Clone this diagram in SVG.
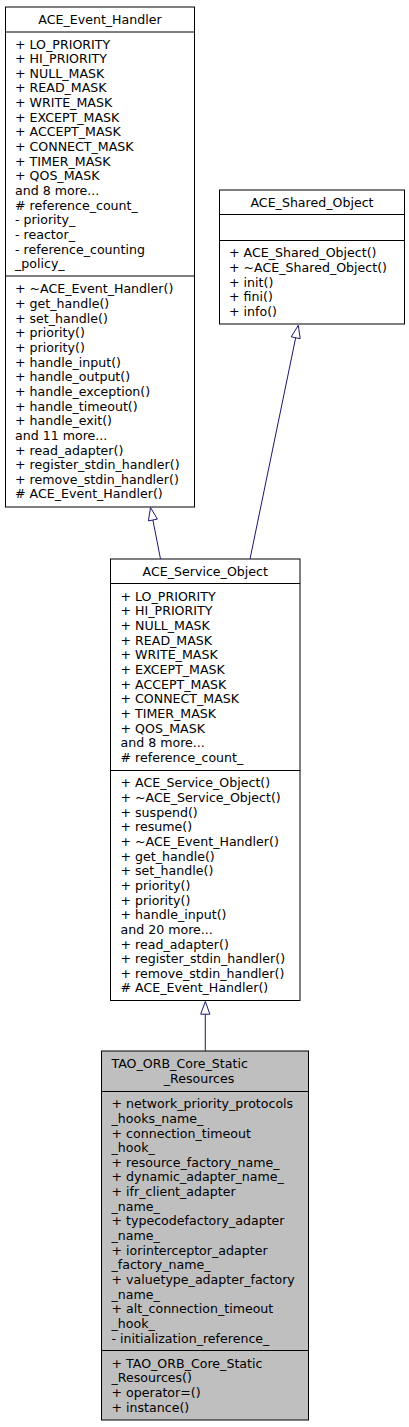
<svg xmlns="http://www.w3.org/2000/svg" width="409" height="1427" viewBox="0 0 409 1427">
<style>
text{font-family:"DejaVu Sans","Liberation Sans",sans-serif;font-size:12.6px;fill:#000}
.box{fill:#fff;stroke:#000;stroke-width:1}
.grey{fill:#bfbfbf;stroke:#000;stroke-width:1}
.sep{stroke:#000;stroke-width:1}
.c{text-anchor:middle}
.edge{stroke:#191970;stroke-width:1;fill:none}
.head{stroke:#191970;stroke-width:1;fill:#fff}
</style>
<rect width="409" height="1427" fill="#fff"/>
<g id="ACE_Event_Handler">
<rect class="box" x="5.5" y="7" width="189" height="500"/>
<line class="sep" x1="5.5" y1="32" x2="194.5" y2="32"/>
<line class="sep" x1="5.5" y1="276" x2="194.5" y2="276"/>
<text class="c" x="100" y="23.9">ACE_Event_Handler</text>
<text x="15" y="33.85"><tspan x="15" dy="14.65">+ LO_PRIORITY</tspan><tspan x="15" dy="14.65">+ HI_PRIORITY</tspan><tspan x="15" dy="14.65">+ NULL_MASK</tspan><tspan x="15" dy="14.65">+ READ_MASK</tspan><tspan x="15" dy="14.65">+ WRITE_MASK</tspan><tspan x="15" dy="14.65">+ EXCEPT_MASK</tspan><tspan x="15" dy="14.65">+ ACCEPT_MASK</tspan><tspan x="15" dy="14.65">+ CONNECT_MASK</tspan><tspan x="15" dy="14.65">+ TIMER_MASK</tspan><tspan x="15" dy="14.65">+ QOS_MASK</tspan><tspan x="15" dy="14.65">and 8 more...</tspan><tspan x="15" dy="14.65"># reference_count_</tspan><tspan x="15" dy="14.65">- priority_</tspan><tspan x="15" dy="14.65">- reactor_</tspan><tspan x="15" dy="14.65">- reference_counting</tspan><tspan x="15" dy="14.65">_policy_</tspan></text>
<text x="15" y="278.7"><tspan x="15" dy="14.65">+ ~ACE_Event_Handler()</tspan><tspan x="15" dy="14.65">+ get_handle()</tspan><tspan x="15" dy="14.65">+ set_handle()</tspan><tspan x="15" dy="14.65">+ priority()</tspan><tspan x="15" dy="14.65">+ priority()</tspan><tspan x="15" dy="14.65">+ handle_input()</tspan><tspan x="15" dy="14.65">+ handle_output()</tspan><tspan x="15" dy="14.65">+ handle_exception()</tspan><tspan x="15" dy="14.65">+ handle_timeout()</tspan><tspan x="15" dy="14.65">+ handle_exit()</tspan><tspan x="15" dy="14.65">and 11 more...</tspan><tspan x="15" dy="14.65">+ read_adapter()</tspan><tspan x="15" dy="14.65">+ register_stdin_handler()</tspan><tspan x="15" dy="14.65">+ remove_stdin_handler()</tspan><tspan x="15" dy="14.65"># ACE_Event_Handler()</tspan></text>
</g>
<g id="ACE_Shared_Object">
<rect class="box" x="219.5" y="190" width="185" height="134"/>
<line class="sep" x1="219.5" y1="214.5" x2="404.5" y2="214.5"/>
<line class="sep" x1="219.5" y1="240.5" x2="404.5" y2="240.5"/>
<text class="c" x="312" y="206.65">ACE_Shared_Object</text>
<text x="229" y="242.55"><tspan x="229" dy="14.65">+ ACE_Shared_Object()</tspan><tspan x="229" dy="14.65">+ ~ACE_Shared_Object()</tspan><tspan x="229" dy="14.65">+ init()</tspan><tspan x="229" dy="14.65">+ fini()</tspan><tspan x="229" dy="14.65">+ info()</tspan></text>
</g>
<g id="ACE_Service_Object">
<rect class="box" x="110.5" y="559" width="189.5" height="441.5"/>
<line class="sep" x1="110.5" y1="583.5" x2="300" y2="583.5"/>
<line class="sep" x1="110.5" y1="770.5" x2="300" y2="770.5"/>
<text class="c" x="205.25" y="575.65">ACE_Service_Object</text>
<text x="120.5" y="586.15"><tspan x="120.5" dy="14.65">+ LO_PRIORITY</tspan><tspan x="120.5" dy="14.65">+ HI_PRIORITY</tspan><tspan x="120.5" dy="14.65">+ NULL_MASK</tspan><tspan x="120.5" dy="14.65">+ READ_MASK</tspan><tspan x="120.5" dy="14.65">+ WRITE_MASK</tspan><tspan x="120.5" dy="14.65">+ EXCEPT_MASK</tspan><tspan x="120.5" dy="14.65">+ ACCEPT_MASK</tspan><tspan x="120.5" dy="14.65">+ CONNECT_MASK</tspan><tspan x="120.5" dy="14.65">+ TIMER_MASK</tspan><tspan x="120.5" dy="14.65">+ QOS_MASK</tspan><tspan x="120.5" dy="14.65">and 8 more...</tspan><tspan x="120.5" dy="14.65"># reference_count_</tspan></text>
<text x="120.5" y="772.7"><tspan x="120.5" dy="14.65">+ ACE_Service_Object()</tspan><tspan x="120.5" dy="14.65">+ ~ACE_Service_Object()</tspan><tspan x="120.5" dy="14.65">+ suspend()</tspan><tspan x="120.5" dy="14.65">+ resume()</tspan><tspan x="120.5" dy="14.65">+ ~ACE_Event_Handler()</tspan><tspan x="120.5" dy="14.65">+ get_handle()</tspan><tspan x="120.5" dy="14.65">+ set_handle()</tspan><tspan x="120.5" dy="14.65">+ priority()</tspan><tspan x="120.5" dy="14.65">+ priority()</tspan><tspan x="120.5" dy="14.65">+ handle_input()</tspan><tspan x="120.5" dy="14.65">and 20 more...</tspan><tspan x="120.5" dy="14.65">+ read_adapter()</tspan><tspan x="120.5" dy="14.65">+ register_stdin_handler()</tspan><tspan x="120.5" dy="14.65">+ remove_stdin_handler()</tspan><tspan x="120.5" dy="14.65"># ACE_Event_Handler()</tspan></text>
</g>
<g id="TAO_ORB_Core_Static_Resources">
<rect class="grey" x="101.5" y="1051" width="207" height="369"/>
<line class="sep" x1="101.5" y1="1091.5" x2="308.5" y2="1091.5"/>
<line class="sep" x1="101.5" y1="1350.5" x2="308.5" y2="1350.5"/>
<text x="111.5" y="1068.3">TAO_ORB_Core_Static</text>
<text class="c" x="199" y="1082.95">_Resources</text>
<text x="111.5" y="1093.55"><tspan x="111.5" dy="14.65">+ network_priority_protocols</tspan><tspan x="111.5" dy="14.65">_hooks_name_</tspan><tspan x="111.5" dy="14.65">+ connection_timeout</tspan><tspan x="111.5" dy="14.65">_hook_</tspan><tspan x="111.5" dy="14.65">+ resource_factory_name_</tspan><tspan x="111.5" dy="14.65">+ dynamic_adapter_name_</tspan><tspan x="111.5" dy="14.65">+ ifr_client_adapter</tspan><tspan x="111.5" dy="14.65">_name_</tspan><tspan x="111.5" dy="14.65">+ typecodefactory_adapter</tspan><tspan x="111.5" dy="14.65">_name_</tspan><tspan x="111.5" dy="14.65">+ iorinterceptor_adapter</tspan><tspan x="111.5" dy="14.65">_factory_name_</tspan><tspan x="111.5" dy="14.65">+ valuetype_adapter_factory</tspan><tspan x="111.5" dy="14.65">_name_</tspan><tspan x="111.5" dy="14.65">+ alt_connection_timeout</tspan><tspan x="111.5" dy="14.65">_hook_</tspan><tspan x="111.5" dy="14.65">- initialization_reference_</tspan></text>
<text x="111.5" y="1353.05"><tspan x="111.5" dy="14.65">+ TAO_ORB_Core_Static</tspan><tspan x="111.5" dy="14.65">_Resources()</tspan><tspan x="111.5" dy="14.65">+ operator=()</tspan><tspan x="111.5" dy="14.65">+ instance()</tspan></text>
</g>
<g id="connectors">
<path class="edge" d="M160.5,559 L152.9,520"/>
<polygon class="head" points="150.5,507.5 157.4,519.1 148.4,520.9"/>
<path class="edge" d="M250,559 L295.7,337.7"/>
<polygon class="head" points="298.3,325.3 300.2,338.7 291.2,336.8"/>
<path class="edge" d="M205.3,1051 L205.3,1014.2"/>
<polygon class="head" points="205.3,1001.5 209.9,1014.2 200.7,1014.2"/>
</g>
</svg>
